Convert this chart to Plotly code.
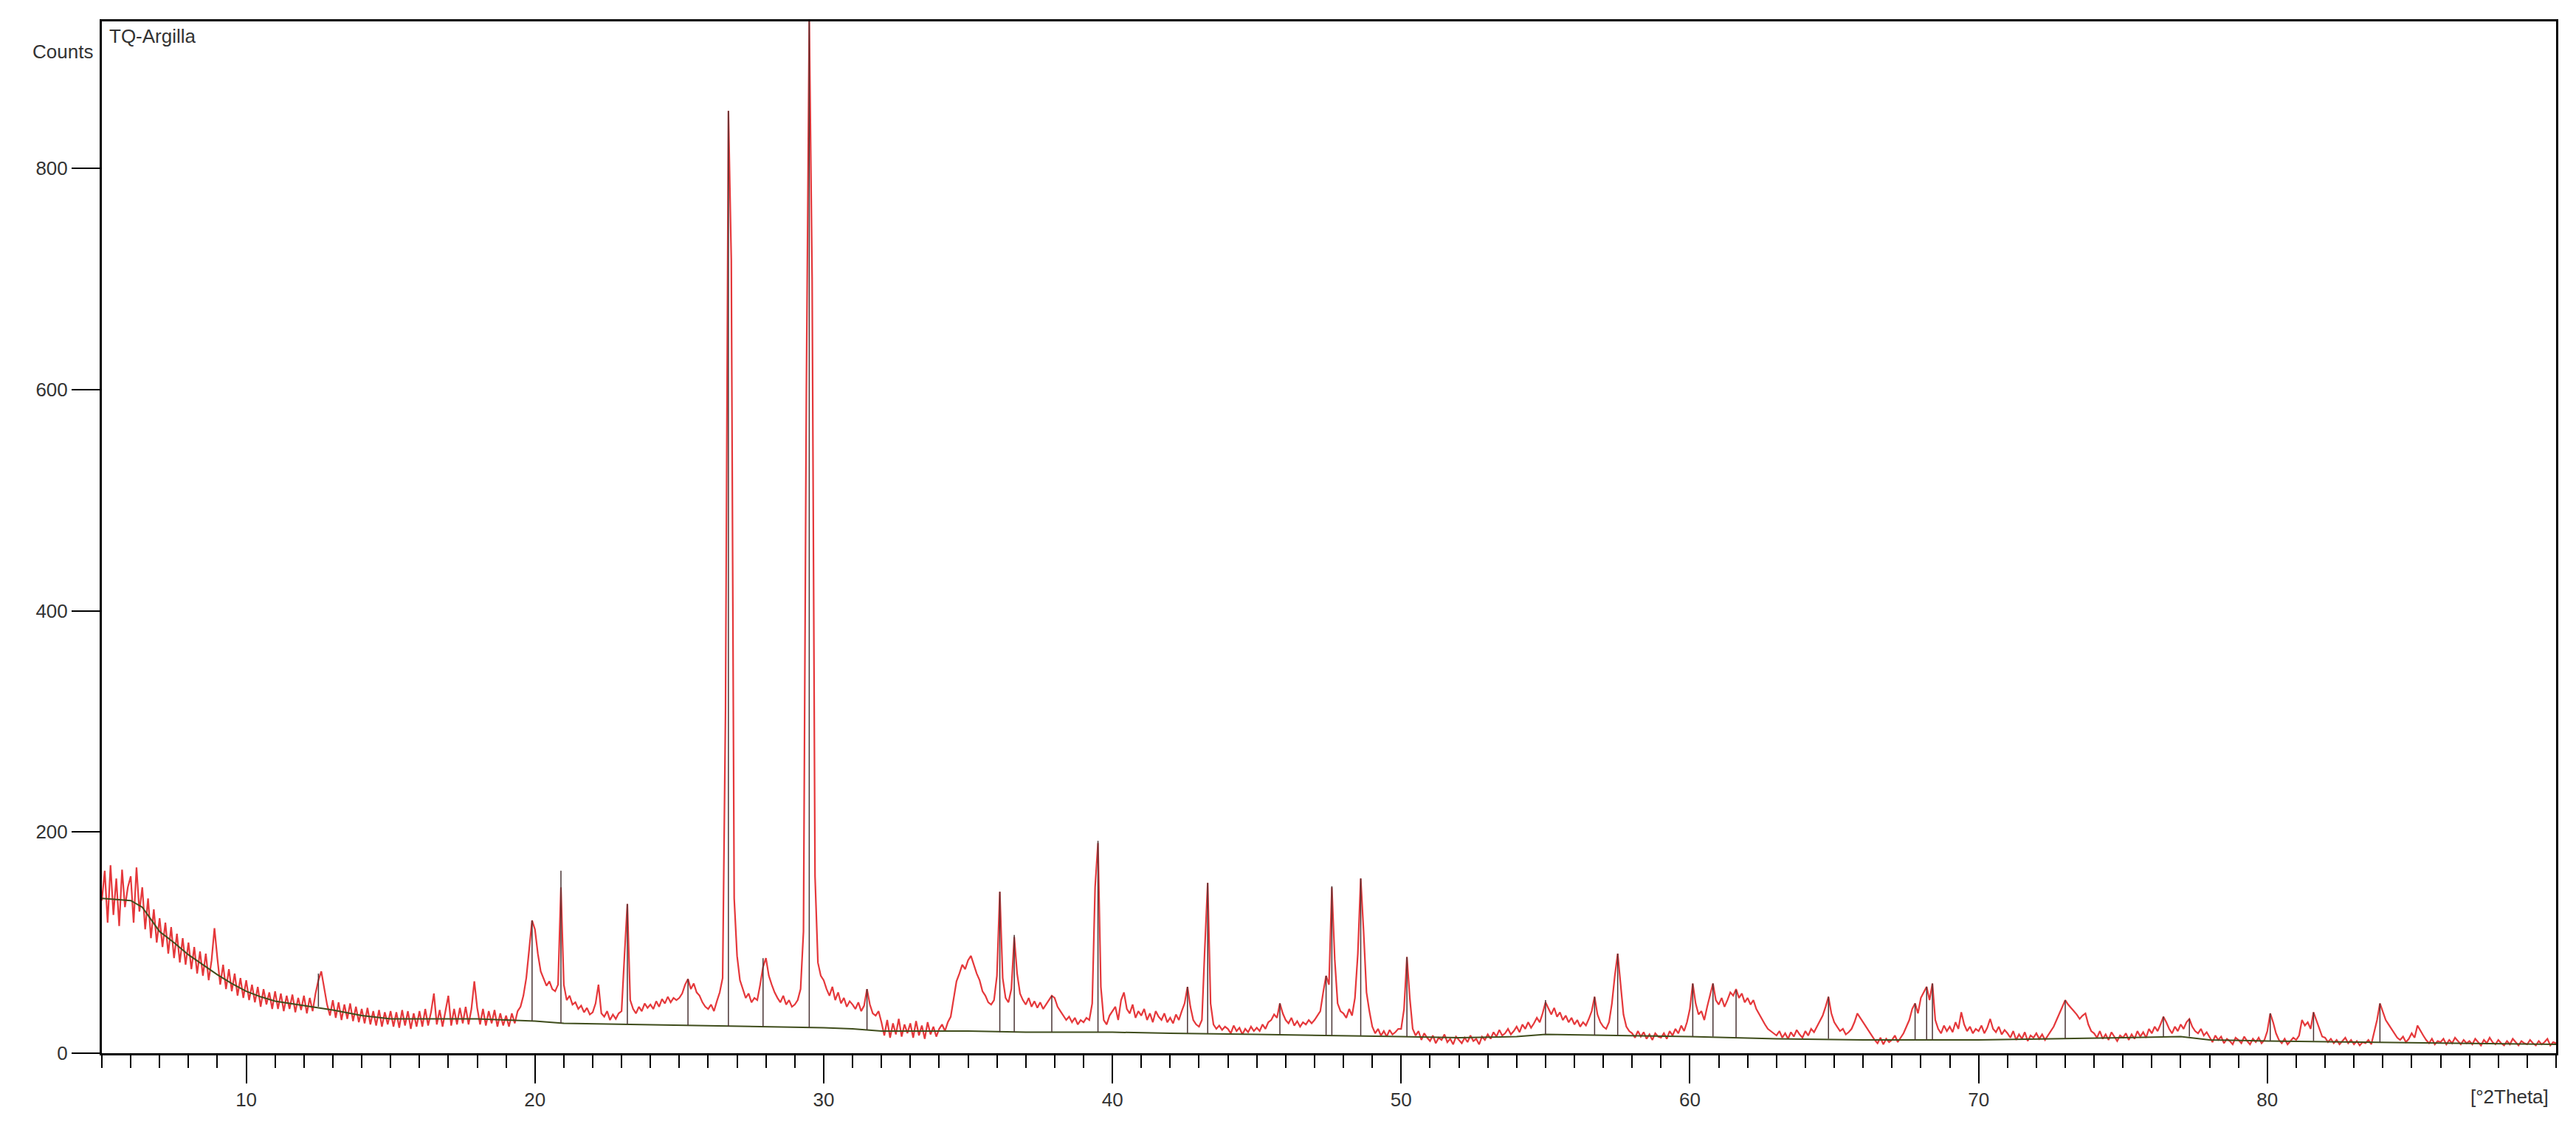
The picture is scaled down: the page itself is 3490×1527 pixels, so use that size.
import plotly.graph_objects as go

# scan: start angle, step, measured counts (one row per degree)
two_theta_start = 5.0
two_theta_step = 0.1
counts = [
    138, 165, 118, 170, 125, 158, 115, 166, 132, 150,
    160, 118, 168, 128, 150, 112, 140, 104, 130, 100,
    122, 96, 118, 90, 114, 86, 108, 82, 104, 80,
    100, 76, 96, 72, 92, 70, 90, 66, 84, 113,
    86, 62, 80, 58, 76, 56, 72, 52, 68, 50,
    66, 48, 62, 46, 60, 42, 58, 44, 55, 40,
    56, 40, 54, 38, 52, 40, 53, 37, 50, 39,
    52, 36, 50, 38, 54, 66, 74, 60, 44, 34,
    48, 32, 46, 30, 44, 31, 45, 29, 42, 28,
    40, 27, 41, 26, 38, 25, 39, 24, 37, 26,
    38, 24, 37, 23, 39, 25, 38, 22, 36, 24,
    38, 24, 40, 25, 37, 54, 26, 39, 24, 38,
    52, 25, 40, 26, 41, 27, 42, 26, 40, 65,
    41, 26, 40, 25, 38, 27, 39, 24, 36, 25,
    34, 24, 36, 27, 38, 42, 52, 68, 95, 120,
    112, 90, 74, 68, 61, 65, 58, 56, 62, 150,
    62, 48, 52, 44, 46, 40, 43, 37, 41, 35,
    37, 45, 62, 36, 33, 38, 30, 35, 31, 36,
    38, 88, 135, 48, 40, 36, 42, 38, 45, 41,
    44, 40, 47, 42, 49, 45, 51, 46, 50, 48,
    50, 54, 62, 67, 58, 63, 55, 52, 46, 42,
    40, 44, 38, 47, 55, 68, 310, 852, 717, 140,
    88, 66, 58, 50, 54, 46, 50, 48, 62, 78,
    86, 70, 62, 55, 50, 46, 52, 44, 48, 42,
    44, 48, 58, 110, 600, 935, 700, 160, 82, 70,
    66, 58, 52, 60, 48, 55, 45, 50, 42, 47,
    44, 40, 46, 38, 43, 58, 44, 36, 34, 38,
    28, 16, 30, 14, 27, 17, 31, 15, 26, 18,
    27, 14, 29, 16, 25, 13, 28, 17, 24, 15,
    22, 26, 20, 28, 33, 48, 65, 72, 80, 76,
    84, 88, 80, 72, 66, 56, 52, 46, 44, 48,
    70, 146, 68, 50, 46, 58, 105, 72, 54, 48,
    44, 50, 42, 47, 41, 46, 40, 44, 48, 52,
    50, 42, 38, 34, 30, 33, 28, 32, 26, 30,
    28, 32, 30, 45, 150, 190, 60, 30, 26, 34,
    38, 42, 30, 48, 55, 40, 36, 44, 32, 38,
    34, 40, 30, 36, 28, 38, 33, 30, 36, 28,
    32, 27, 35, 30, 38, 45, 60, 42, 30, 26,
    24, 30, 95, 154, 45, 26, 22, 25, 21, 24,
    22, 18, 25, 20, 23, 17, 22, 19, 24, 20,
    23, 20, 26, 22, 28, 30, 35, 32, 45, 36,
    30, 27, 32, 25, 29, 24, 28, 26, 30, 27,
    30, 34, 38, 55, 70, 62, 150, 85, 45, 38,
    36, 32, 40, 34, 50, 90, 158, 110, 55, 38,
    24, 18, 22, 16, 20, 15, 21, 17, 19, 22,
    22, 40, 87, 50, 22, 16, 20, 12, 18, 14,
    11, 16, 9, 14, 12, 17, 10, 13, 8, 15,
    12, 9, 14, 10, 16, 11, 13, 8, 15, 12,
    17, 13, 19, 15, 21, 16, 18, 22, 17, 20,
    24, 19, 26, 22, 28, 23, 27, 32, 28, 36,
    46, 40, 35, 41, 33, 37, 30, 34, 28, 32,
    26, 30, 24, 28, 25, 31, 38, 51, 35, 28,
    24, 22, 28, 45, 70, 90, 60, 35, 24, 20,
    18, 14, 20, 15, 19, 13, 17, 12, 18, 15,
    14, 18, 13, 20, 16, 22, 18, 25, 20, 28,
    40, 63, 45, 35, 38, 30, 42, 52, 63, 48,
    44, 50, 42, 48, 55, 52, 58, 50, 54, 46,
    50, 44, 48, 40, 35, 30, 26, 22, 20, 18,
    16, 20, 14, 18, 13, 19, 15, 21, 17, 14,
    20, 16, 22, 19, 24, 28, 34, 42, 51, 36,
    28, 24, 20, 22, 17, 19, 22, 28, 36, 32,
    28, 24, 20, 16, 12, 9, 14, 8, 13, 10,
    12, 16, 10, 14, 18, 24, 30, 40, 45, 36,
    50, 55, 60, 48, 63, 30, 22, 18, 25, 20,
    24, 19, 28, 22, 37, 26, 20, 24, 18, 22,
    20, 25, 18, 23, 31, 22, 19, 24, 17, 21,
    18, 14, 20, 12, 17, 13, 19, 11, 16, 14,
    18, 13, 17, 12, 16, 20, 24, 30, 36, 42,
    48, 44, 41, 38, 35, 31, 34, 36, 26, 20,
    18, 14, 20, 13, 17, 12, 19, 15, 11, 16,
    14, 18, 12, 17, 13, 20, 15, 19, 14, 22,
    18, 24, 20, 26, 33, 28, 22, 18, 24, 20,
    26, 22, 28, 31, 24, 20, 18, 22, 16, 19,
    14, 10, 16, 12, 15, 9, 13, 11, 8, 14,
    12, 9, 15, 11, 8, 13, 10, 14, 9, 12,
    20, 36, 28, 18, 12, 9, 13, 8, 11, 14,
    12, 16, 30, 25, 28, 22, 37, 30, 22, 15,
    14, 10, 13, 9, 12, 8, 11, 14, 9, 12,
    8, 11, 7, 10, 9, 12, 8, 20, 30, 45,
    38, 30, 26, 22, 18, 14, 12, 15, 10, 13,
    18, 14, 25, 20, 16, 12, 9, 13, 8, 11,
    10, 13, 8, 12, 9, 14, 11, 8, 12, 9,
    11, 8, 13, 10, 7, 12, 9, 14, 10, 8,
    12, 9, 7, 11, 8, 13, 10, 7, 11, 9,
    8, 12, 9, 7, 11, 8, 10, 13, 7, 10,
    9,
]
two_theta = [round(two_theta_start + i * two_theta_step, 2) for i in range(len(counts))]

# fitted background
bkg_theta = [5, 6, 6.4, 7, 7.5, 8, 8.5, 9, 9.5, 10, 10.5, 11, 12, 13, 14, 15, 16, 17, 18,
             19, 20, 21, 23, 25, 28, 30, 31, 32, 35, 37, 40, 42, 45, 48, 50, 52, 54, 55,
             58, 60, 63, 66, 70, 73, 75, 77, 78, 80, 83, 86, 90]
bkg_counts = [140, 138, 132, 110, 100, 89, 80, 71, 63, 56, 51, 47, 43, 39, 34, 31, 31, 31,
              31, 30, 29, 27, 26, 25, 24, 23, 22, 20, 20, 19, 19, 18, 17, 16, 15, 14, 15,
              17, 16, 15, 13, 12, 12, 13, 14, 15, 12, 11, 10, 9, 8]

# peak list
peak_theta = [12.5, 19.9, 20.9, 23.2, 25.3, 26.7, 27.9, 29.5, 31.5, 36.1,
              36.6, 37.9, 39.5, 42.6, 43.3, 45.8, 47.4, 47.6, 48.6, 50.2,
              55.0, 56.7, 57.5, 60.1, 60.8, 61.6, 64.8, 67.8, 68.2, 68.4,
              73.0, 76.4, 77.3, 80.1, 81.6, 83.9]
peak_top = [72, 120, 165, 135, 67, 852, 86, 935, 58, 146,
            107, 52, 192, 60, 154, 45, 70, 151, 158, 87,
            48, 51, 90, 63, 63, 57, 51, 45, 60, 63,
            48, 33, 31, 36, 37, 45]
peak_base = [42, 29, 27, 26, 25, 24, 24, 23, 21, 19,
             19, 19, 19, 18, 18, 17, 16, 16, 16, 15,
             17, 16, 16, 15, 15, 14, 13, 12, 12, 12,
             13, 15, 15, 11, 11, 10]

x_ticks = [10, 20, 30, 40, 50, 60, 70, 80]
y_ticks = [0, 200, 400, 600, 800]

stick_x, stick_y = [], []
for p, b, t in zip(peak_theta, peak_base, peak_top):
    stick_x += [p, p, None]
    stick_y += [b, t, None]

fig = go.Figure()

fig.add_trace(go.Scatter(
    x=two_theta, y=counts, mode="lines",
    line=dict(color="#e5383b", width=2.2),
))
fig.add_trace(go.Scatter(
    x=bkg_theta, y=bkg_counts, mode="lines",
    line=dict(color="#3f4d1c", width=2), hoverinfo="skip",
))
fig.add_trace(go.Scatter(
    x=stick_x, y=stick_y, mode="lines",
    line=dict(color="#4a3535", width=1.5), hoverinfo="skip",
))

font_family = "Liberation Sans, Arial, sans-serif"

fig.add_annotation(x=0, y=0.971, xref="paper", yref="paper", text="Counts",
                   showarrow=False, xanchor="right", yanchor="middle", xshift=-10,
                   font=dict(size=26, color="#333333"))
fig.add_annotation(x=0, y=0.986, xref="paper", yref="paper", text="TQ-Argilla",
                   showarrow=False, xanchor="left", yanchor="middle", xshift=8,
                   font=dict(size=26, color="#333333"))
fig.add_annotation(x=1, y=-0.042, xref="paper", yref="paper", text="[°2Theta]",
                   showarrow=False, xanchor="right", yanchor="middle", xshift=-8,
                   font=dict(size=26, color="#333333"))

fig.update_layout(
    width=3474,
    height=1511,
    margin=dict(l=130, r=19, t=21, b=92),
    paper_bgcolor="white",
    plot_bgcolor="white",
    showlegend=False,
    font=dict(family=font_family, size=26, color="#333333"),
)
fig.update_xaxes(
    range=[5, 90],
    tickvals=x_ticks,
    ticks="outside",
    ticklen=38,
    tickwidth=2,
    tickcolor="black",
    minor=dict(dtick=1, tick0=0, ticks="outside", ticklen=17, tickwidth=2, tickcolor="black"),
    showgrid=False,
    zeroline=False,
    showline=True,
    linecolor="black",
    linewidth=3,
    mirror=True,
    tickfont=dict(size=26, color="#333333"),
)
fig.update_yaxes(
    range=[0, 933],
    tickvals=y_ticks,
    ticks="outside",
    ticklen=38,
    tickwidth=2,
    tickcolor="black",
    showgrid=False,
    zeroline=False,
    showline=True,
    linecolor="black",
    linewidth=3,
    mirror=True,
    tickfont=dict(size=26, color="#333333"),
)

fig.write_html("out.html")
